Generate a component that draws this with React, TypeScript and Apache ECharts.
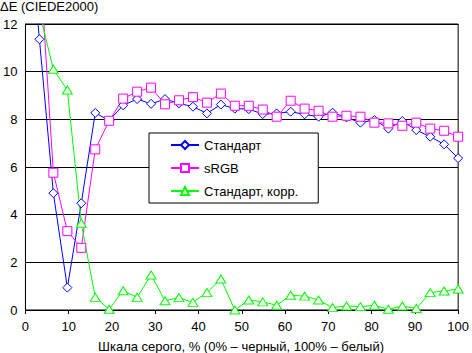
import React, { useEffect, useRef } from "react";
import * as echarts from "echarts";

const xValues = [0, 3.23, 6.45, 9.68, 12.9, 16.13, 19.35, 22.58, 25.81, 29.03, 32.26, 35.48, 38.71, 41.94, 45.16, 48.39, 51.61, 54.84, 58.06, 61.29, 64.52, 67.74, 70.97, 74.19, 77.42, 80.65, 83.87, 87.1, 90.32, 93.55, 96.77, 100];
const standard = [18, 11.36, 4.9, 0.94, 4.48, 8.27, 7.95, 8.59, 8.85, 8.65, 8.85, 8.67, 8.53, 8.25, 8.62, 8.45, 8.43, 8.22, 8.25, 8.32, 8.21, 8.11, 8.28, 8.08, 7.86, 7.97, 7.61, 7.93, 7.55, 7.27, 6.95, 6.37];
const srgb = [22, 14.9, 5.76, 3.31, 2.61, 6.74, 7.94, 8.87, 9.16, 9.33, 8.63, 8.8, 8.93, 8.7, 9.08, 8.57, 8.57, 8.41, 8.11, 8.78, 8.45, 8.36, 8.11, 8.15, 8.11, 7.86, 7.83, 7.73, 7.86, 7.61, 7.52, 7.27];
const standardCorr = [14, 12.5, 10.1, 9.23, 3.64, 0.53, 0.03, 0.81, 0.53, 1.47, 0.39, 0.52, 0.32, 0.73, 1.3, 0.0, 0.42, 0.34, 0.2, 0.62, 0.58, 0.42, 0.1, 0.17, 0.14, 0.2, 0.03, 0.17, 0.06, 0.73, 0.8, 0.88];

const seriesNames = ["Стандарт", "sRGB", "Стандарт, корр."];
const yTitle = "ΔE (CIEDE2000)";
const xTitle = "Шкала серого, % (0% – черный, 100% – белый)";

const FONT = "'Liberation Sans', Arial, sans-serif";

export default function App() {
  const ref = useRef<HTMLDivElement>(null);
  useEffect(() => {
    if (!ref.current) return;
    const chart = echarts.init(ref.current, null, { renderer: "svg" });
    const pts = (vals: number[]) => xValues.map((x, i) => [x, vals[i]]);
    chart.setOption({
      animation: false,
      backgroundColor: "#fff",
      textStyle: { fontFamily: FONT },
      grid: {
        left: 23,
        right: 10,
        top: 24,
        bottom: 43,
        show: true,
        borderColor: "#000",
        borderWidth: 1,
        backgroundColor: "transparent",
      },
      xAxis: {
        type: "value",
        min: 0,
        max: 100,
        interval: 10,
        axisLine: { show: true, lineStyle: { color: "#000", width: 1 } },
        axisTick: { show: true, length: 4, lineStyle: { color: "#000" } },
        splitLine: { show: false },
        axisLabel: { color: "#000", fontSize: 13, fontFamily: FONT, margin: 10 },
      },
      yAxis: {
        type: "value",
        min: 0,
        max: 12,
        interval: 2,
        axisLine: { show: true, lineStyle: { color: "#000", width: 1 } },
        axisTick: { show: false },
        splitLine: { show: true, lineStyle: { color: "#000", width: 1 } },
        axisLabel: { color: "#000", fontSize: 13, fontFamily: FONT, margin: 8 },
      },
      legend: {
        orient: "vertical",
        left: 149,
        top: 133,
        itemWidth: 28,
        itemHeight: 10,
        itemGap: 9,
        padding: [5, 20, 5, 21],
        backgroundColor: "#fff",
        borderColor: "#000",
        borderWidth: 1,
        borderRadius: 0,
        textStyle: { color: "#000", fontSize: 13, fontFamily: FONT, lineHeight: 14 },
        data: seriesNames,
      },
      graphic: [
        {
          type: "text",
          left: 0,
          top: 0,
          style: { text: yTitle, fill: "#000", font: `13px ${FONT}` },
        },
        {
          type: "text",
          x: 241,
          y: 346,
          style: {
            text: xTitle,
            fill: "#000",
            font: `13px ${FONT}`,
            align: "center",
            verticalAlign: "middle",
          },
        },
      ],
      series: [
        {
          name: seriesNames[0],
          type: "line",
          data: pts(standard),
          symbol: "diamond",
          symbolSize: 9,
          clip: true,
          lineStyle: { color: "#0000ff", width: 1 },
          itemStyle: { color: "#fff", borderColor: "#0000ff", borderWidth: 1 },
        },
        {
          name: seriesNames[1],
          type: "line",
          data: pts(srgb),
          symbol: "rect",
          symbolSize: 9,
          clip: true,
          lineStyle: { color: "#ff00ff", width: 1 },
          itemStyle: { color: "#fff", borderColor: "#ff00ff", borderWidth: 1 },
        },
        {
          name: seriesNames[2],
          type: "line",
          data: pts(standardCorr),
          symbol: "triangle",
          symbolSize: [10, 8],
          clip: true,
          lineStyle: { color: "#00ff00", width: 1 },
          itemStyle: { color: "#fff", borderColor: "#00ff00", borderWidth: 1 },
        },
      ],
    });
    return () => chart.dispose();
  }, []);
  return (
    <div
      ref={ref}
      style={{ position: "absolute", left: 0, top: 0, width: 472, height: 353, background: "#fff" }}
    />
  );
}
